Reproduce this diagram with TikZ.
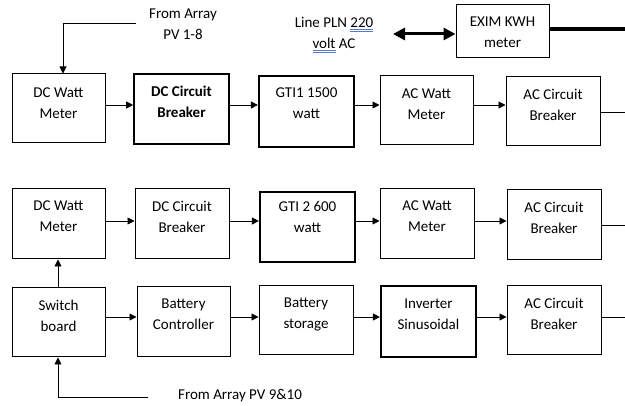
\documentclass[tikz,border=0pt]{standalone}
\usepackage{fontspec}
\setmainfont{Carlito}
\usetikzlibrary{arrows.meta}
\definecolor{ulblue}{RGB}{90,120,200}
\newcommand{\dblul}[1]{\setbox0\hbox{#1}\rlap{\color{ulblue}\raisebox{-2.2pt}{\rule{\wd0}{0.5pt}}}\rlap{\color{ulblue}\raisebox{-4.0pt}{\rule{\wd0}{0.5pt}}}\box0}
\begin{document}
\begin{tikzpicture}[x=1pt,y=-1pt,
  font=\fontsize{15}{21}\selectfont,
  box/.style={draw, line width=1pt, minimum width=93pt, minimum height=69pt, inner sep=0pt},
  thickbox/.style={box, line width=2.2pt},
  midbox/.style={box, line width=1.6pt},
  txt/.style={align=center, inner sep=0pt, anchor=north},
  conn/.style={line width=0.9pt, -{Triangle[length=7pt,width=7pt]}},
  dbl/.style={line width=3pt, {Triangle[length=12pt,width=12pt]}-{Triangle[length=12pt,width=12pt]}}
]
\useasboundingbox (0,0) rectangle (625,406);
\fill[white] (0,0) rectangle (625,406);

% Row 1
\node[box] (a1) at (58.5,108.5) {};
\node[midbox, minimum width=95pt, minimum height=70pt] (b1) at (181.5,109) {};
\node[thickbox, minimum width=95pt, minimum height=71pt] (c1) at (306.5,111.5) {};
\node[box] (d1) at (426.5,110.5) {};
\node[box, minimum width=94pt] (e1) at (553,111.5) {};
\node[txt] (a1t) at ([yshift=-14pt]a1.north) {DC Watt\\Meter};
\node[txt, font=\fontsize{15}{21}\selectfont\bfseries] (b1t) at ([yshift=-13pt]b1.north) {DC Circuit\\Breaker};
\node[txt] (c1t) at ([yshift=-13pt]c1.north) {GTI1 1500\\watt};
\node[txt] (d1t) at ([yshift=-13pt]d1.north) {AC Watt\\Meter};
\node[txt] (e1t) at ([yshift=-12pt]e1.north) {AC Circuit\\Breaker};

% Row 2
\node[box, minimum height=70pt] (a2) at (58.5,224) {};
\node[box, minimum width=94pt, minimum height=70pt] (b2) at (182,224) {};
\node[thickbox, minimum width=95pt, minimum height=70pt] (c2) at (307.5,227) {};
\node[box, minimum width=94pt, minimum height=70pt] (d2) at (427,224) {};
\node[box, minimum width=94pt, minimum height=70pt] (e2) at (554,225) {};
\node[txt] (a2t) at ([yshift=-12pt]a2.north) {DC Watt\\Meter};
\node[txt] (b2t) at ([yshift=-12pt]b2.north) {DC Circuit\\Breaker};
\node[txt] (c2t) at ([yshift=-10pt]c2.north) {GTI 2 600\\watt};
\node[txt] (d2t) at ([yshift=-12pt]d2.north) {AC Watt\\Meter};
\node[txt] (e2t) at ([yshift=-12pt]e2.north) {AC Circuit\\Breaker};

% Row 3
\node[box] (a3) at (58.5,322.5) {};
\node[box, minimum height=70pt] (b3) at (183.5,322) {};
\node[box, minimum width=94pt] (c3) at (306,320.5) {};
\node[thickbox, minimum width=95pt, minimum height=71pt] (d3) at (428.5,321.5) {};
\node[box, minimum width=94pt] (e3) at (554,320.5) {};
\node[txt] (a3t) at ([yshift=-12pt]a3.north) {Switch\\board};
\node[txt] (b3t) at ([yshift=-12pt]b3.north) {Battery\\Controller};
\node[txt] (c3t) at ([yshift=-12pt]c3.north) {Battery\\storage};
\node[txt] (d3t) at ([yshift=-14pt]d3.north) {Inverter\\Sinusoidal};
\node[txt] (e3t) at ([yshift=-12pt]e3.north) {AC Circuit\\Breaker};

% Top
\node[box, minimum height=53pt] (ex) at (502.5,31.5) {};
\node[txt] (ext) at ([yshift=-12pt]ex.north) {EXIM KWH\\meter};
\node[txt] (pv1) at (183,9) {From Array\\PV 1-8};
\node[txt] (pln) at (334,17) {Line PLN \dblul{220}\\\dblul{volt}\ AC};
\node[txt, anchor=base] (pv2) at (240,400) {From Array PV 9\&10};

\coordinate (pv1s) at (136,23);
\coordinate (pv1c) at (63,23);
\coordinate (plnl) at (393,34);
\coordinate (thr) at (626,29);
\coordinate (pv2s) at (148,397);
\coordinate (pv2c) at (58,397);

% connectors
\draw[line width=0.9pt] (pv1s) -- (pv1c);
\draw[conn] (pv1c) -- (pv1c |- a1.north);
\draw[dbl] (plnl) -- (ex.west |- plnl);
\draw[line width=4pt] (ex.east |- thr) -- (thr);

\draw[conn] (a1.east |- 0,105) -- (b1.west |- 0,105);
\draw[conn] (b1.east |- 0,105) -- (c1.west |- 0,105);
\draw[conn] (c1.east |- 0,105) -- (d1.west |- 0,105);
\draw[conn] (d1.east |- 0,105) -- (e1.west |- 0,105);

\draw[conn] (a2.east |- 0,221) -- (b2.west |- 0,221);
\draw[conn] (b2.east |- 0,221) -- (c2.west |- 0,221);
\draw[conn] (c2.east |- 0,221) -- (d2.west |- 0,221);
\draw[conn] (d2.east |- 0,221) -- (e2.west |- 0,221);

\draw[conn] (a3.east |- 0,317) -- (b3.west |- 0,317);
\draw[conn] (b3.east |- 0,317) -- (c3.west |- 0,317);
\draw[conn] (c3.east |- 0,317) -- (d3.west |- 0,317);
\draw[conn] (d3.east |- 0,317) -- (e3.west |- 0,317);

\draw[conn] (58,0 |- a3.north) -- (58,0 |- a2.south);
\draw[line width=0.9pt] (pv2s) -- (pv2c);
\draw[conn] (pv2c) -- (pv2c |- a3.south);

\coordinate (o1) at (632,112);
\coordinate (o2) at (632,225);
\coordinate (o3) at (632,317);
\begin{scope}
\clip (0,0) rectangle (625,406);
\draw[conn] (e1.east |- o1) -- (o1);
\draw[conn] (e2.east |- o2) -- (o2);
\draw[conn] (e3.east |- o3) -- (o3);
\end{scope}
\end{tikzpicture}
\end{document}
